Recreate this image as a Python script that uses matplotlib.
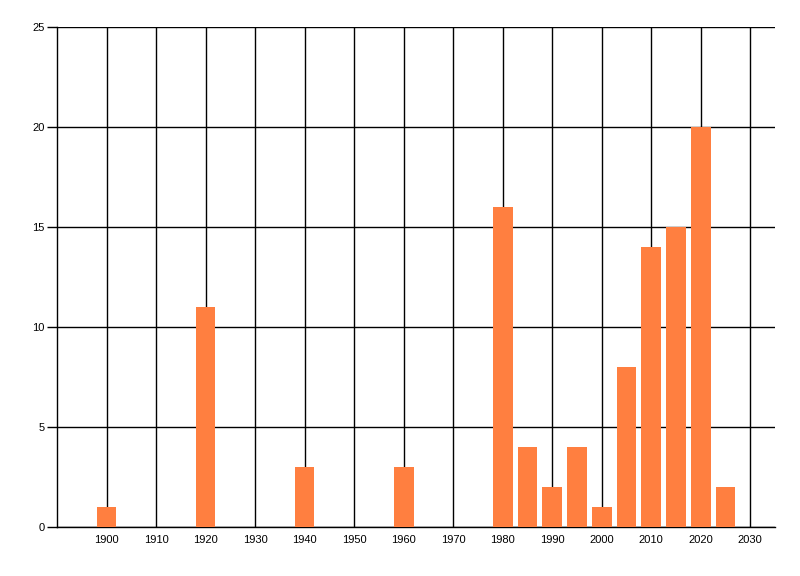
import matplotlib
matplotlib.use('Agg')
import matplotlib.pyplot as plt

years = [1900, 1920, 1940, 1960, 1980, 1985, 1990, 1995, 2000, 2005, 2010, 2015, 2020, 2025]
counts = [1, 11, 3, 3, 16, 4, 2, 4, 1, 8, 14, 15, 20, 2]

plt.rcParams['font.family'] = ['Liberation Sans', 'DejaVu Sans']

fig = plt.figure(figsize=(8, 5.76), dpi=100)
ax = fig.add_axes([0.07125, 0.085, 0.8975, 0.868])

ax.bar(years, counts, width=4, color='#FF7F40', zorder=3)

ax.set_xlim(1890, 2035)
ax.set_ylim(0, 25)
ax.set_xticks(range(1900, 2031, 10))
ax.set_yticks(range(0, 26, 5))
ax.grid(True, color='black', linewidth=1, zorder=0)
ax.set_axisbelow(True)

for s in ['top', 'right']:
    ax.spines[s].set_visible(False)
ax.spines['left'].set_linewidth(1)
ax.spines['bottom'].set_linewidth(1)

ax.tick_params(axis='x', length=0, pad=6, labelsize=8)
ax.tick_params(axis='y', length=7, width=1, pad=2, labelsize=8)

fig.savefig('out.png', dpi=100)
